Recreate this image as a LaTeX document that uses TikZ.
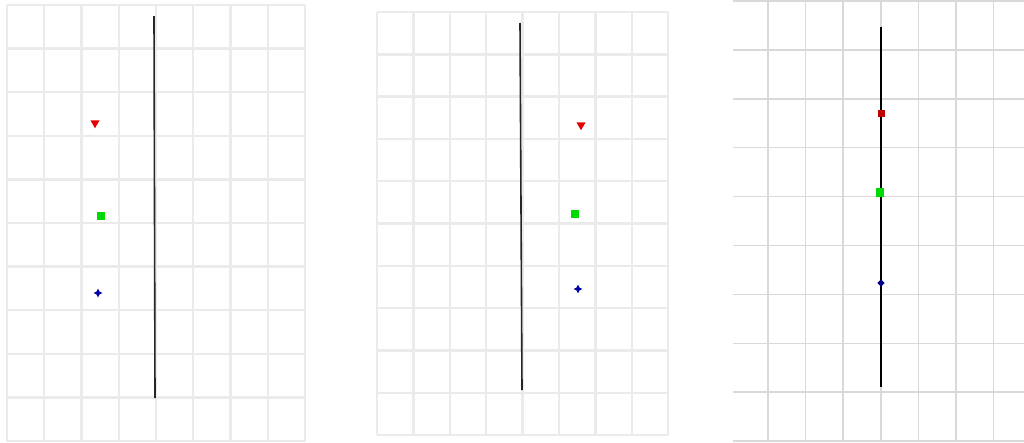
\documentclass[tikz,border=0pt]{standalone}
\usetikzlibrary{shapes.geometric}
\begin{document}
\begin{tikzpicture}[x=1pt,y=-1pt,
  gridA/.style={draw=black!8,line width=2.4pt},
  gridC/.style={draw=black!15,line width=1.5pt},
  axisline/.style={draw=black!85,line width=1.6pt},
  tri/.style={regular polygon,regular polygon sides=3,shape border rotate=180,fill=red!90!black,inner sep=0pt,minimum size=10.5pt},
  sq/.style={rectangle,fill=green!85!black,inner sep=0pt,minimum size=7.5pt},
  dia/.style={star,star points=4,star point ratio=2.2,fill=blue!65!black,inner sep=0pt,minimum size=9pt},
  rsq/.style={rectangle,fill=red!75!black,inner sep=0pt,minimum size=7pt},
  gsq/.style={rectangle,fill=green!85!black,inner sep=0pt,minimum width=8pt,minimum height=9pt},
  bdia/.style={diamond,fill=blue!55!black,inner sep=0pt,minimum size=7.5pt}]
\useasboundingbox[fill=white] (0,0) rectangle (1024,442);
% panel 1 grid
\foreach \i in {0,...,8} \draw[gridA] ({7+37.25*\i},5) -- ({7+37.25*\i},442);
\foreach \j in {0,...,10} \draw[gridA] (7,{5+43.6*\j}) -- (305,{5+43.6*\j});
% panel 2 grid
\foreach \i in {0,...,8} \draw[gridA] ({377+36.4*\i},12) -- ({377+36.4*\i},435);
\foreach \j in {0,...,10} \draw[gridA] (377,{12+42.3*\j}) -- (668,{12+42.3*\j});
% panel 3 grid
\foreach \i in {0,...,6} \draw[gridC] ({768+37.6*\i},0) -- ({768+37.6*\i},442);
\foreach \j in {0,...,9} \draw[gridC] (733,{1+48.9*\j}) -- (1024,{1+48.9*\j});
% panel 1
\coordinate (a1) at (154,16);
\coordinate (a2) at (155,398);
\draw[axisline] (a1) -- (a2);
\node[tri] (r1) at (95,123) {};
\node[sq] (g1) at (101,216) {};
\node[dia] (b1) at (98,293) {};
% panel 2
\coordinate (b1a) at (520,23);
\coordinate (b2a) at (522,390);
\draw[axisline] (b1a) -- (b2a);
\node[tri] (r2) at (581,125) {};
\node[sq] (g2) at (575,214) {};
\node[dia] (b2) at (578,289) {};
% panel 3
\coordinate (c1) at (881,27);
\coordinate (c2) at (881,387);
\draw[draw=black,line width=1.5pt] (c1) -- (c2);
\node[rsq] (r3) at (881,113) {};
\node[gsq] (g3) at (880,192) {};
\node[bdia] (b3) at (881,283) {};
\end{tikzpicture}
\end{document}
